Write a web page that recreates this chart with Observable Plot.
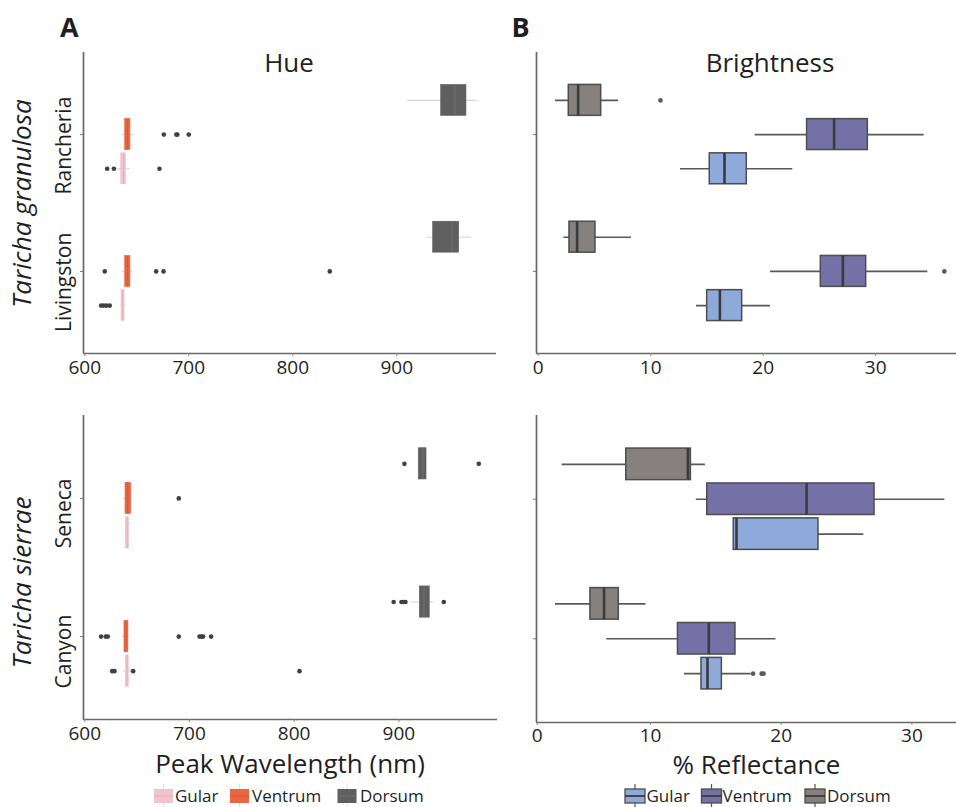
<!DOCTYPE html>
<html><head><meta charset="utf-8">
<script src="https://cdn.jsdelivr.net/npm/d3@7"></script>
<script src="https://cdn.jsdelivr.net/npm/@observablehq/plot@0.6"></script>
<style>
body{margin:0;background:#fff;}
#wrap{position:relative;width:956px;height:807px;overflow:hidden;font-family:"Open Sans",sans-serif;background:#fff;}
#wrap > svg{position:absolute;}
</style></head><body><div id="wrap"></div>
<script>
// ---------- data ----------
const parts = ["Gular", "Ventrum", "Dorsum"];
const partOffset = [-0.25, 0, 0.25];
const sitesGranulosa = ["Livingston", "Rancheria"];
const sitesSierrae = ["Canyon", "Seneca"];
const hueTicks = [600, 700, 800, 900];
const brightTicks = [0, 10, 20, 30];
const hueColors = ["#f0c4ce", "#ea6643", "#5f5f5f"];
const hueMedianColors = ["#e3b0bc", "#d85a37", "#737373"];
const brightColors = ["#8eaadb", "#7571a6", "#86817f"];

// [site, part, lowWhisker, q1, median, q3, highWhisker]
const hueGranulosa = [
  ["Rancheria", "Dorsum", 910, 942.7, 956, 967, 977.3],
  ["Rancheria", "Ventrum", 636, 638.8, 641, 643.9, 647],
  ["Rancheria", "Gular", 631, 635, 637.5, 639.8, 644],
  ["Livingston", "Dorsum", 928.6, 935, 953, 960, 971.8],
  ["Livingston", "Ventrum", 636, 638.8, 641, 643.9, 646],
  ["Livingston", "Gular", 634, 635.3, 636.5, 638.2, 639.5]
];
// [site, part, value]
const hueGranulosaOutliers = [
  ["Rancheria", "Ventrum", 676], ["Rancheria", "Ventrum", 688], ["Rancheria", "Ventrum", 689], ["Rancheria", "Ventrum", 700],
  ["Rancheria", "Gular", 621.5], ["Rancheria", "Gular", 628], ["Rancheria", "Gular", 671.8],
  ["Livingston", "Ventrum", 619.2], ["Livingston", "Ventrum", 668.6], ["Livingston", "Ventrum", 675.7], ["Livingston", "Ventrum", 835.6],
  ["Livingston", "Gular", 615.7], ["Livingston", "Gular", 618.3], ["Livingston", "Gular", 620.9], ["Livingston", "Gular", 624]
];
const hueSierrae = [
  ["Seneca", "Dorsum", 918.5, 919, 923, 926.4, 927],
  ["Seneca", "Ventrum", 637, 638.9, 641, 644.3, 646],
  ["Seneca", "Gular", 638, 639.2, 640.5, 642.4, 643],
  ["Canyon", "Dorsum", 911.7, 920, 924, 929.5, 933.4],
  ["Canyon", "Ventrum", 636, 637.9, 639.5, 641.7, 643],
  ["Canyon", "Gular", 637, 639.2, 640.5, 642, 644.3]
];
const hueSierraeOutliers = [
  ["Seneca", "Dorsum", 905.3], ["Seneca", "Dorsum", 976.3],
  ["Seneca", "Ventrum", 689.8],
  ["Canyon", "Dorsum", 895], ["Canyon", "Dorsum", 902.5], ["Canyon", "Dorsum", 904.7], ["Canyon", "Dorsum", 906.3], ["Canyon", "Dorsum", 942.9],
  ["Canyon", "Ventrum", 615.6], ["Canyon", "Ventrum", 620], ["Canyon", "Ventrum", 622], ["Canyon", "Ventrum", 689.8],
  ["Canyon", "Ventrum", 709.6], ["Canyon", "Ventrum", 711.5], ["Canyon", "Ventrum", 713], ["Canyon", "Ventrum", 720.7],
  ["Canyon", "Gular", 626.2], ["Canyon", "Gular", 628.4], ["Canyon", "Gular", 646.2], ["Canyon", "Gular", 805.1]
];
const brightGranulosa = [
  ["Rancheria", "Dorsum", 1.54, 2.72, 3.55, 5.6, 7.14],
  ["Rancheria", "Ventrum", 19.29, 23.9, 26.3, 29.3, 34.3],
  ["Rancheria", "Gular", 12.65, 15.25, 16.56, 18.54, 22.63],
  ["Livingston", "Dorsum", 2.28, 2.78, 3.46, 5.09, 8.29],
  ["Livingston", "Ventrum", 20.65, 25.12, 27.08, 29.15, 34.63],
  ["Livingston", "Gular", 14.07, 15.02, 16.15, 18.13, 20.65]
];
const brightGranulosaOutliers = [
  ["Rancheria", "Dorsum", 10.87],
  ["Livingston", "Ventrum", 36.1]
];
const brightSierrae = [
  ["Seneca", "Dorsum", 2.2, 7.86, 12.86, 13.09, 14.2],
  ["Seneca", "Ventrum", 13.5, 14.34, 21.94, 27.14, 32.52],
  ["Seneca", "Gular", 16.37, 16.37, 16.58, 22.85, 26.32],
  ["Canyon", "Dorsum", 1.62, 4.7, 5.9, 7.2, 9.6],
  ["Canyon", "Ventrum", 6.14, 12.1, 14.46, 16.5, 19.6],
  ["Canyon", "Gular", 12.6, 13.9, 14.36, 15.46, 17.7]
];
const brightSierraeOutliers = [
  ["Canyon", "Gular", 17.85], ["Canyon", "Gular", 18.5], ["Canyon", "Gular", 18.65]
];

// ---------- helpers ----------
const BOX_HALF = 0.113;
function toBoxes(rows, sites) {
  return rows.map(([site, part, lo, q1, med, q3, hi]) => {
    const p = parts.indexOf(part);
    const y = sites.indexOf(site) + 1 + partOffset[p];
    return {site, part, p, lo, q1, med, q3, hi, y, y1: y - BOX_HALF, y2: y + BOX_HALF};
  });
}
function toPoints(rows, sites) {
  return rows.map(([site, part, v]) => {
    const p = parts.indexOf(part);
    return {v, y: sites.indexOf(site) + 1 + partOffset[p]};
  });
}

function panel({rows, outRows, sites, hue, x, ticks, width, height, marginLeft, marginRight, marginTop, marginBottom, labels, labelDy, tickPadding}) {
  const boxes = toBoxes(rows, sites);
  const outs = toPoints(outRows, sites);
  const fills = hue ? hueColors : brightColors;
  const xmin = x.domain[0];
  const marks = [
    Plot.ruleY(boxes, {x1: "lo", x2: "hi", y: "y", stroke: hue ? "#d4d4d4" : "#595959", strokeWidth: hue ? 1.1 : 1.6}),
    Plot.rect(boxes, {x1: "q1", x2: "q3", y1: "y1", y2: "y2", fill: d => fills[d.p],
      stroke: hue ? (d => fills[d.p]) : "#4d4d4d", strokeWidth: hue ? 0.6 : 1.5}),
    Plot.ruleX(boxes, {x: "med", y1: "y1", y2: "y2", stroke: hue ? (d => hueMedianColors[d.p]) : "#3b3b3b", strokeWidth: hue ? 1 : 2.6}),
    Plot.dot(outs, {x: "v", y: "y", r: 2.3, fill: hue ? "#404040" : "#5a5a5a", stroke: null}),
    Plot.ruleX([xmin], {stroke: "#686868", strokeWidth: 1.7}),
    Plot.ruleY([0.4], {stroke: "#686868", strokeWidth: 1.7}),
    Plot.axisX({ticks, tickSize: 3, tickPadding, fontSize: 19, color: "#1f1f1f", stroke: "#888", tickFormat: d => String(d)}),
    Plot.axisY({ticks: [1, 2], tickSize: 3, stroke: "#777", tickFormat: () => ""})
  ];
  if (labels) {
    marks.push(Plot.text(sites.map((s, i) => ({s, y: i + 1})), {
      text: "s", y: "y", frameAnchor: "left", rotate: -90, dx: -13, dy: labelDy,
      textAnchor: "middle", lineAnchor: "bottom", fontSize: 21, fill: "#1f1f1f"
    }));
  }
  return Plot.plot({
    width, height, marginLeft, marginRight, marginTop, marginBottom,
    x, y: {domain: [0.4, 2.6]},
    style: {background: "transparent", fontFamily: "Open Sans, sans-serif", overflow: "visible"},
    marks
  });
}

const wrap = document.getElementById("wrap");
function place(svg, left, top) {
  svg.style.position = "absolute";
  svg.style.left = left + "px";
  svg.style.top = top + "px";
  svg.style.maxWidth = "none";
  wrap.appendChild(svg);
}

place(panel({rows: hueGranulosa, outRows: hueGranulosaOutliers, sites: sitesGranulosa, hue: true,
  x: {domain: [598.75, 995.9]}, ticks: hueTicks, tickPadding: 4,
  width: 500, height: 350, marginLeft: 83, marginRight: 4, marginTop: 12, marginBottom: 37, labels: true, labelDy: 11}), 0, 40);

place(panel({rows: brightGranulosa, outRows: brightGranulosaOutliers, sites: sitesGranulosa, hue: false,
  x: {domain: [-0.15, 37.18]}, ticks: brightTicks, tickPadding: 4,
  width: 456, height: 350, marginLeft: 36, marginRight: 0, marginTop: 12, marginBottom: 37, labels: false}), 500, 40);

place(panel({rows: hueSierrae, outRows: hueSierraeOutliers, sites: sitesSierrae, hue: true,
  x: {domain: [598.8, 994.2]}, ticks: hueTicks, tickPadding: 4,
  width: 500, height: 345, marginLeft: 83, marginRight: 3, marginTop: 15, marginBottom: 26, labels: true, labelDy: 15}), 0, 400);

place(panel({rows: brightSierrae, outRows: brightSierraeOutliers, sites: sitesSierrae, hue: false,
  x: {type: "linear", domain: [-0.06, 10, 33.41], range: [36, 150, 456]}, ticks: brightTicks, tickPadding: 3,
  width: 456, height: 345, marginLeft: 36, marginRight: 0, marginTop: 15, marginBottom: 23, labels: false}), 500, 400);

// ---------- titles, labels, legends ----------
const ov = d3.create("svg").attr("width", 956).attr("height", 807)
  .style("position", "absolute").style("left", "0px").style("top", "0px")
  .style("font-family", "Open Sans, sans-serif").style("pointer-events", "none");
const ink = "#1f1f1f";
function txt(s, x, y, size, opts = {}) {
  const t = ov.append("text").attr("x", x).attr("y", y).attr("font-size", size).attr("fill", ink)
    .attr("text-anchor", opts.anchor || "start").text(s);
  if (opts.bold) t.attr("font-weight", "bold");
  if (opts.italic) t.attr("font-style", "italic");
  if (opts.rotate) t.attr("transform", `rotate(${opts.rotate},${x},${y})`);
  return t;
}
txt("A", 60, 36.7, 27, {bold: true});
txt("B", 511.5, 36.7, 27, {bold: true});
txt("Hue", 289, 71.7, 26, {anchor: "middle"});
txt("Brightness", 770, 71.7, 26, {anchor: "middle"});
txt("Taricha granulosa", 31, 203.5, 26, {anchor: "middle", italic: true, rotate: -90});
txt("Taricha sierrae", 31, 582.5, 26, {anchor: "middle", italic: true, rotate: -90});
txt("Peak Wavelength (nm)", 290, 773, 26, {anchor: "middle"});
txt("% Reflectance", 756.5, 774, 26, {anchor: "middle"});

const hueLegendX = [154, 230, 337.5];
const hueLegendTextX = [175, 252, 360];
const brightLegendX = [625, 701.5, 805];
const brightLegendTextX = [646.5, 722.5, 827];
parts.forEach((p, i) => {
  const x = hueLegendX[i];
  ov.append("line").attr("x1", x + 9.5).attr("x2", x + 9.5).attr("y1", 784).attr("y2", 807).attr("stroke", "#e2e2e2").attr("stroke-width", 1);
  ov.append("rect").attr("x", x).attr("y", 789).attr("width", 19).attr("height", 14).attr("fill", hueColors[i]);
  ov.append("line").attr("x1", x).attr("x2", x + 19).attr("y1", 796).attr("y2", 796).attr("stroke", hueMedianColors[i]).attr("stroke-width", 1);
  txt(p, hueLegendTextX[i], 801.7, 17);

  const bx = brightLegendX[i];
  ov.append("line").attr("x1", bx + 10).attr("x2", bx + 10).attr("y1", 784).attr("y2", 807).attr("stroke", "#555").attr("stroke-width", 1.2);
  ov.append("rect").attr("x", bx).attr("y", 789).attr("width", 20).attr("height", 14).attr("fill", brightColors[i]).attr("stroke", "#4d4d4d").attr("stroke-width", 1.3);
  ov.append("line").attr("x1", bx).attr("x2", bx + 20).attr("y1", 796).attr("y2", 796).attr("stroke", "#3b3b3b").attr("stroke-width", 1.8);
  txt(p, brightLegendTextX[i], 801.7, 17);
});
wrap.appendChild(ov.node());
</script>
</body></html>
